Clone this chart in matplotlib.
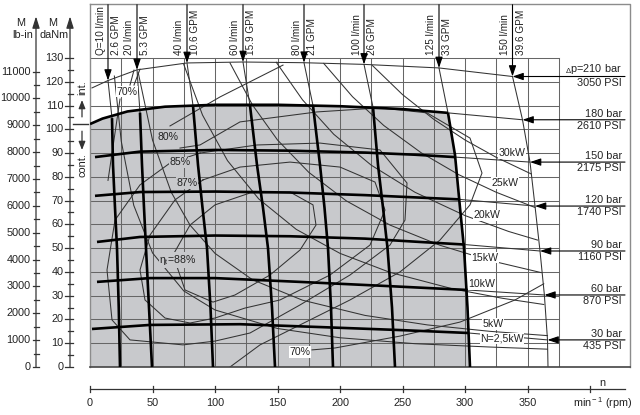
import matplotlib
matplotlib.use('Agg')
import matplotlib.pyplot as plt

plt.rcParams['font.family'] = ['Liberation Sans', 'DejaVu Sans']
plt.rcParams['mathtext.fontset'] = 'custom'
plt.rcParams['mathtext.rm'] = 'Liberation Sans'
plt.rcParams['mathtext.it'] = 'Liberation Sans:italic'

# pressure curves: speed n (rpm) and torque M (daNm)
p30_n = [1.6, 48, 120, 184, 250, 303]
p30_m = [16, 17.7, 18, 16.8, 15.5, 14.3]
p60_n = [5.6, 48, 100, 168, 240, 302]
p60_m = [35.8, 37.4, 37.4, 35.8, 34, 32.4]
p90_n = [5.6, 40, 100, 160, 220, 264, 300]
p90_m = [52.6, 54.7, 55.3, 55, 54, 52.6, 51.5]
p120_n = [4, 40, 100, 160, 220, 296]
p120_m = [72, 73.6, 73.8, 73.4, 72.3, 70.5]
p150_n = [4, 40, 100, 160, 220, 260, 292]
p150_m = [88.3, 90.6, 91.3, 91, 90.2, 89.3, 88.3]
p180_n = [0, 10, 30, 60, 100, 150, 200, 250, 286.4]
p180_m = [102.2, 104.5, 107.5, 109.5, 110.3, 110.3, 109.7, 108.5, 106.9]
p210_n = [1.6, 14.4, 37.6, 77.6, 122.4, 171.2, 219.2, 279.2, 338]
p210_m = [117.4, 120.5, 125, 127.9, 128.3, 128, 127.3, 125.8, 122.2]

bar_labels = ['30 bar', '60 bar', '90 bar', '120 bar', '150 bar', '180 bar', r'$_\Delta$p=210 bar']
psi_labels = ['435 PSI', '870 PSI', '1160 PSI', '1740 PSI', '2175 PSI', '2610 PSI', '3050 PSI']
tip_n = [366, 363.5, 360, 356, 352, 346, 338]
tip_m = [11.4, 30.3, 48.8, 67.7, 86.2, 104, 122.2]

# flow lines
q10_n = [14.4, 17.6, 18.4, 20, 21.6, 23, 24]
q10_m = [120.5, 104.7, 85, 67, 50, 25, 0]
q20_n = [37.6, 40, 41.6, 43.2, 44.8, 47.2, 49.6]
q20_m = [125, 107, 85, 67, 50, 25, 0]
q40_n = [77.6, 82.4, 86.4, 90, 93.6, 96.4, 98.4]
q40_m = [127.9, 110, 85, 67, 50, 25, 0]
q60_n = [122.4, 128, 133.6, 138.4, 142.4, 145.6, 148]
q60_m = [128.3, 110, 85, 67, 50, 25, 0]
q80_n = [171.2, 178.4, 184, 187.6, 190.4, 192.8, 194.4]
q80_m = [128, 110, 85, 67, 50, 25, 0]
q100_n = [219.2, 226.4, 230.4, 234.4, 238, 241.6, 244]
q100_m = [127.3, 109.3, 85, 67, 50, 25, 0]
q125_n = [279.2, 286.4, 292, 296, 299.2, 302, 304]
q125_m = [125.8, 106.9, 89.2, 67, 50, 25, 0]
q150_n = [338, 346, 352, 356, 360, 363.5, 366, 366.4]
q150_m = [122.2, 104, 86.2, 67.7, 48.8, 30.3, 11.4, 0]

q_lmin = ['Q=10 l/min', '20 l/min', '40 l/min', '60 l/min', '80 l/min', '100 l/min', '125 l/min', '150 l/min']
q_gpm = ['2.6 GPM', '5.3 GPM', '10.6 GPM', '15.9 GPM', '21 GPM', '26 GPM', '33 GPM', '39.6 GPM']

# power lines
kw2_n = [19.5, 25, 35, 50, 75, 100, 150, 200, 260, 320, 366]
kw2_m = [122.4, 95, 68, 48, 32, 24, 16.2, 12.3, 9.8, 8.4, 7.5]
kw5_n = [38.5, 50, 65, 80, 100, 130, 170, 220, 270, 320, 366]
kw5_m = [124, 95.5, 73.5, 59.7, 47.8, 36.7, 28.1, 21.7, 17.7, 15, 13.2]
kw10_n = [75, 90, 110, 135, 165, 200, 240, 290, 330, 363]
kw10_m = [127.3, 106, 86.8, 70.7, 57.9, 47.8, 39.8, 32.9, 28.9, 26.3]
kw15_n = [112, 130, 150, 175, 205, 240, 280, 320, 361]
kw15_m = [127.9, 110.2, 95.5, 81.9, 69.9, 59.7, 51.2, 44.8, 39.7]
kw20_n = [149, 170, 195, 225, 260, 300, 335, 358]
kw20_m = [128.2, 112.4, 97.9, 84.9, 73.5, 63.7, 57, 53.4]
kw25_n = [187, 210, 235, 265, 295, 325, 356]
kw25_m = [127.7, 113.7, 101.6, 90.1, 80.9, 73.5, 67.1]
kw30_n = [226, 250, 275, 300, 325, 353]
kw30_m = [126.8, 114.6, 104.2, 95.5, 88.2, 81.2]

kw_labels = ['N=2,5kW', '5kW', '10kW', '15kW', '20kW', '25kW', '30kW']
kw_lab_n = [329.6, 322.4, 313.6, 316, 317.6, 332, 337.6]
kw_lab_m = [11.8, 18.1, 34.9, 45.9, 63.9, 77.4, 90]

# efficiency contours
e88_n = [66.4, 80, 100, 128, 160, 178.4, 180.8, 168, 144, 116, 98.4, 76, 66.4]
e88_m = [47.1, 59.7, 68.2, 73.2, 73.6, 68.2, 59.7, 49.2, 38.7, 30.3, 27.3, 32.4, 47.1]
e87_n = [90.4, 120, 160, 200, 228, 236, 224, 192, 152, 124, 100, 80, 60, 44, 40, 48, 68, 90.4]
e87_m = [78.7, 84.1, 86.2, 84.1, 77.8, 66, 51.3, 38.7, 28.2, 24.8, 20.6, 18.5, 20.6, 28.2, 40.8, 55.5, 70.3, 78.7]
e85_n = [88, 133.6, 184, 232, 253.6, 252, 240, 208, 168, 128, 100, 74.4, 32, 17.6, 13.6, 20, 40, 64, 88]
e85_m = [90, 93.4, 94.2, 91.3, 77.4, 61.8, 51.3, 38.7, 26.1, 14.3, 10.9, 9.3, 11.4, 19.8, 40.8, 61.8, 76.6, 85.8, 90]
e80_n = [72, 88, 120, 181.6, 232, 269.6, 304, 313.6, 304, 280, 248, 208, 168, 136, 112]
e80_m = [92.1, 93.4, 103.1, 107.3, 109, 106.9, 96.3, 81.6, 68.2, 53.4, 40, 28.2, 17.7, 9.3, 0]
e80b_n = [64, 104, 154.4]
e80b_m = [101.4, 113.6, 127]
e70_n = [177.6, 196, 248, 296, 340, 363]
e70_m = [7.2, 8, 13, 18.9, 28.2, 35]

eff_labels = ['70%', '80%', '85%', '87%', r'η$_{\rm t}$=88%', '70%']
eff_lab_n = [29.6, 62.4, 72, 77.6, 70.4, 168]
eff_lab_m = [115.7, 96.8, 86.2, 77.4, 45, 6.3]

daNm_ticks = list(range(0, 131, 10))
lbin_ticks = list(range(0, 11001, 1000))
rpm_ticks = list(range(0, 401, 50))

shade = '#c8c9cc'
grid_c = '#666666'
thin_c = '#333333'
txt_c = '#222222'
fs = 7.8

fig = plt.figure(figsize=(6.4, 4.15), dpi=100)
ax = fig.add_axes([90 / 640, 48 / 415, 540 / 640, 363 / 415])
ax.set_xlim(0, 432)
ax.set_ylim(0, 152.7)
ax.axis('off')

# shaded continuous/intermittent area
poly_n = p180_n + q125_n[2:] + [0]
poly_m = p180_m + q125_m[2:] + [0]
ax.fill(poly_n, poly_m, color=shade, lw=0, zorder=0)

# grid
for n in range(25, 376, 25):
    ax.plot([n, n], [0, 130], color=grid_c, lw=0.75, zorder=1)
for m in range(10, 131, 10):
    ax.plot([0, 375], [m, m], color=grid_c, lw=0.75, zorder=1)

# frame
fr = dict(color='#8c8c8c', lw=1.0, zorder=1, clip_on=False)
ax.plot([0, 432, 432], [152.5, 152.5, 0], **fr)
ax.plot([0, 0], [0, 152.5], **fr)
ax.plot([0, 432], [0, 0], color='#444444', lw=1.2, zorder=3, clip_on=False)

thin = dict(color=thin_c, lw=0.75, zorder=2)
thick = dict(color='black', lw=1.9, zorder=3, solid_capstyle='butt')

for en, em in [(e88_n, e88_m), (e87_n, e87_m), (e85_n, e85_m), (e80_n, e80_m),
               (e80b_n, e80b_m), (e70_n, e70_m)]:
    ax.plot(en, em, **thin)
# leaders of the upper 70% label
ax.plot([32, 35.2], [118.6, 124.9], **thin)
ax.plot([35.2, 40], [118.6, 125.3], **thin)
ax.plot([24, 14.4], [112.7, 78.5], **thin)

for kn, km in [(kw2_n, kw2_m), (kw5_n, kw5_m), (kw10_n, kw10_m), (kw15_n, kw15_m),
               (kw20_n, kw20_m), (kw25_n, kw25_m), (kw30_n, kw30_m)]:
    ax.plot(kn, km, **thin)

arrow = dict(arrowstyle='-|>,head_length=0.65,head_width=0.22', color='black',
             lw=0.8, mutation_scale=10, shrinkA=0, shrinkB=0)

# pressure lines
press = [(p30_n, p30_m), (p60_n, p60_m), (p90_n, p90_m), (p120_n, p120_m),
         (p150_n, p150_m), (p180_n, p180_m)]
for i, (pn, pm) in enumerate(press):
    ax.plot(pn, pm, **thick)
    ax.plot([pn[-1], tip_n[i]], [pm[-1], tip_m[i]], **thin)
ax.plot(p210_n, p210_m, **thin)
for i in range(7):
    ax.annotate('', xy=(tip_n[i], tip_m[i]), xytext=(428, tip_m[i]),
                arrowprops=arrow, zorder=4, annotation_clip=False)
    ax.text(425.6, tip_m[i] + 0.3, bar_labels[i], ha='right', va='bottom',
            fontsize=fs, color=txt_c)
    ax.text(425.6, tip_m[i] - 0.5, psi_labels[i], ha='right', va='top',
            fontsize=fs, color=txt_c)

# flow lines
flows = [(q10_n, q10_m), (q20_n, q20_m), (q40_n, q40_m), (q60_n, q60_m),
         (q80_n, q80_m), (q100_n, q100_m), (q125_n, q125_m), (q150_n, q150_m)]
for i, (qn, qm) in enumerate(flows):
    ax.annotate('', xy=(qn[0], qm[0]), xytext=(qn[0], 152.4),
                arrowprops=arrow, zorder=4, annotation_clip=False)
    if i < 7:
        ax.plot(qn[:2], qm[:2], **thin)
        ax.plot(qn[1:], qm[1:], **thick)
    else:
        ax.plot(qn, qm, **thin)
    ax.text(qn[0] - 6.0, 131.3, q_lmin[i], rotation=90, ha='center', va='bottom',
            fontsize=7.2, color=txt_c)
    ax.text(qn[0] + 6.6, 131.3, q_gpm[i], rotation=90, ha='center', va='bottom',
            fontsize=7.2, color=txt_c)

for i, lab in enumerate(kw_labels):
    ax.text(kw_lab_n[i], kw_lab_m[i], lab, ha='center', va='center', fontsize=7.6,
            color=txt_c, zorder=5,
            bbox=dict(facecolor='white', edgecolor='none', pad=0.4))
for i, lab in enumerate(eff_labels):
    bg = shade if 0 < i < 5 else 'white'
    ax.text(eff_lab_n[i], eff_lab_m[i], lab, ha='center', va='center', fontsize=7.6,
            color=txt_c, zorder=5,
            bbox=dict(facecolor=bg, edgecolor='none', pad=0.4))

# left torque scales
ax_kw = dict(color='#333333', lw=0.9, clip_on=False)
for x0 in (-16, -43.2):
    ax.annotate('', xy=(x0, 147.5), xytext=(x0, 0), annotation_clip=False,
                arrowprops=dict(arrowstyle='-|>,head_length=0.7,head_width=0.22',
                                color='#333333', lw=0.9, mutation_scale=10,
                                shrinkA=0, shrinkB=0))
for t in daNm_ticks:
    ax.plot([-20, -13.6], [t, t], **ax_kw)
    ax.text(-21.2, t, str(t), ha='right', va='center', fontsize=fs, color=txt_c)
    if t < 130:
        ax.plot([-17.8, -13.6], [t + 5, t + 5], **ax_kw)
for lb in lbin_ticks:
    y = lb / 88.51
    ax.plot([-45.8, -40.6], [y, y], **ax_kw)
    ax.text(-47.4, y, str(lb), ha='right', va='center', fontsize=fs, color=txt_c)
    if lb < 11000:
        y2 = (lb + 500) / 88.51
        ax.plot([-44.6, -41.2], [y2, y2], **ax_kw)
ax.text(-55.2, 144.7, 'M', ha='center', va='center', fontsize=fs, color=txt_c)
ax.text(-53.6, 139.6, 'lb-in', ha='center', va='center', fontsize=fs, color=txt_c)
ax.text(-29.6, 144.7, 'M', ha='center', va='center', fontsize=fs, color=txt_c)
ax.text(-28.8, 139.6, 'daNm', ha='center', va='center', fontsize=fs, color=txt_c)

# int. / cont. markers
ax.plot([-13.6, -2.0], [102.2, 102.2], color='#333333', lw=1.0, clip_on=False)
small_arrow = dict(arrowstyle='-|>,head_length=0.5,head_width=0.2', color='#333333',
                   lw=0.9, mutation_scale=10, shrinkA=0, shrinkB=0)
ax.annotate('', xy=(-6.4, 112.3), xytext=(-6.4, 105.2), arrowprops=small_arrow,
            annotation_clip=False)
ax.annotate('', xy=(-6.4, 91.3), xytext=(-6.4, 99.2), arrowprops=small_arrow,
            annotation_clip=False)
ax.text(-6.4, 117.5, 'int.', rotation=90, ha='center', va='center', fontsize=fs, color=txt_c)
ax.text(-6.4, 85.0, 'cont.', rotation=90, ha='center', va='center', fontsize=fs, color=txt_c)

# speed scale
ax.plot([0, 428], [-9.3, -9.3], color='#333333', lw=0.9, clip_on=False)
for r in rpm_ticks:
    ax.plot([r, r], [-8.0, -10.6], color='#333333', lw=0.9, clip_on=False)
    if r < 400:
        ax.text(r, -15.1, str(r), ha='center', va='center', fontsize=fs, color=txt_c)
ax.text(409.6, -8.9, 'n', ha='center', va='bottom', fontsize=fs, color=txt_c)
ax.text(410.4, -15.1, r'min$^{\rm -1}$ (rpm)', ha='center', va='center', fontsize=fs,
        color=txt_c)

fig.savefig('out.png', dpi=100)
